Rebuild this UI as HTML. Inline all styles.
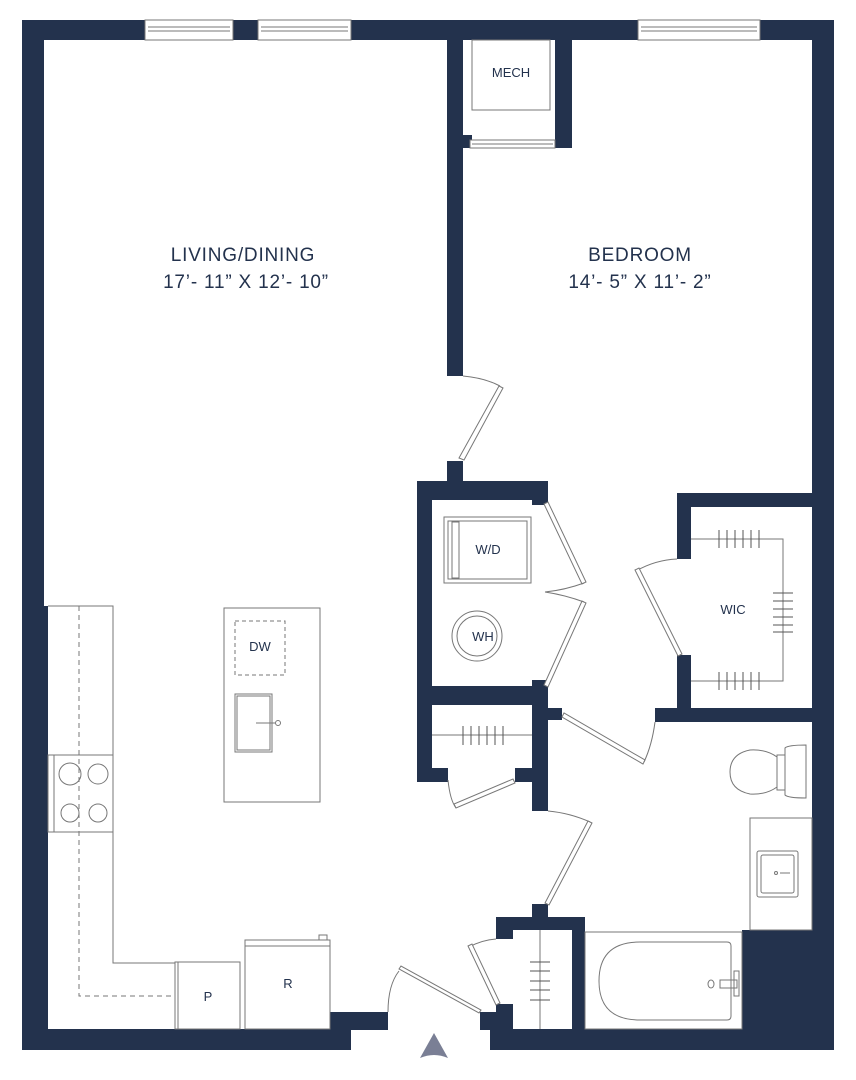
<!DOCTYPE html>
<html><head><meta charset="utf-8"><style>
html,body{margin:0;padding:0;background:#fff;}
svg{display:block;}
text{font-family:"Liberation Sans",sans-serif;fill:#23324d;}
.big{font-size:19px;letter-spacing:0.8px;}
</style></head><body>
<svg width="856" height="1080" viewBox="0 0 856 1080" xmlns="http://www.w3.org/2000/svg">
<g fill="#23324d">
<rect x="22" y="20" width="812" height="20"/>
<rect x="22" y="20" width="22" height="1030"/>
<rect x="22" y="606" width="26" height="444"/>
<rect x="812" y="20" width="22" height="1030"/>
<rect x="22" y="1029" width="329" height="21"/>
<rect x="330" y="1012" width="58" height="18"/>
<rect x="490" y="1029" width="344" height="21"/>
<rect x="480" y="1012" width="33" height="18"/>
<rect x="447" y="40" width="16" height="336"/>
<rect x="447" y="461" width="16" height="22"/>
<rect x="555" y="40" width="17" height="108"/>
<rect x="463" y="135" width="9" height="13"/>
<rect x="417" y="481" width="131" height="19"/>
<rect x="532" y="481" width="16" height="24"/>
<rect x="417" y="481" width="15" height="301"/>
<rect x="417" y="686" width="131" height="19"/>
<rect x="532" y="680" width="16" height="131"/>
<rect x="548" y="708" width="14" height="12"/>
<rect x="432" y="768" width="16" height="14"/>
<rect x="515" y="768" width="18" height="14"/>
<rect x="677" y="493" width="157" height="14"/>
<rect x="677" y="493" width="14" height="66"/>
<rect x="677" y="655" width="14" height="53"/>
<rect x="655" y="708" width="179" height="14"/>
<rect x="532" y="904" width="16" height="26"/>
<rect x="496" y="917" width="89" height="13"/>
<rect x="496" y="917" width="17" height="22"/>
<rect x="572" y="917" width="13" height="112"/>
<rect x="496" y="1004" width="17" height="26"/>
<rect x="742" y="930" width="70" height="99"/>
</g>
<g fill="#fff" stroke="#777" stroke-width="1">
<rect x="145" y="20" width="88" height="20"/>
<rect x="258" y="20" width="93" height="20"/>
<rect x="638" y="20" width="122" height="20"/>
<rect x="470" y="140" width="85" height="8"/>
</g>
<g stroke="#777" stroke-width="1" fill="none">
<line x1="148" y1="27" x2="230" y2="27"/><line x1="148" y1="31" x2="230" y2="31"/>
<line x1="261" y1="27" x2="348" y2="27"/><line x1="261" y1="31" x2="348" y2="31"/>
<line x1="641" y1="27" x2="757" y2="27"/><line x1="641" y1="31" x2="757" y2="31"/>
<line x1="472" y1="144" x2="553" y2="144"/>
<rect x="472" y="40" width="78" height="70"/>
<path d="M463 376 Q485 378 500 386"/>
<path d="M499 386 L503 388 L464 460 L459 458 Z" fill="#fff"/>
<path d="M544 504 L548 502 L586 582 L582 584 Z" fill="#fff"/>
<path d="M544 685 L548 687 L586 603 L582 601 Z" fill="#fff"/>
<path d="M545 592 Q565 590 584 583 M545 592 Q565 595 584 602"/>
<path d="M677 559 Q655 560 636 571"/>
<path d="M635 570 L639 568 L682 654 L678 656 Z" fill="#fff"/>
<path d="M562 717 L564 713 L645 760 L643 764 Z" fill="#fff"/>
<path d="M655 722 Q652 745 644 762"/>
<path d="M448 780 Q450 800 456 808"/>
<path d="M456 808 L454 804 L513 779 L515 783 Z" fill="#fff"/>
<path d="M548 811 Q570 813 590 822"/>
<path d="M588 821 L592 823 L549 905 L545 903 Z" fill="#fff"/>
<path d="M496 939 Q482 940 469 947"/>
<path d="M468 946 L472 944 L500 1003 L496 1005 Z" fill="#fff"/>
<path d="M388 1012 Q388 985 399 971"/>
<path d="M399 969 L401 966 L481 1010 L479 1013 Z" fill="#fff"/>
<rect x="444" y="517" width="87" height="66"/>
<rect x="448" y="521" width="79" height="58"/>
<rect x="452" y="522" width="7" height="56"/>
<circle cx="477" cy="636" r="25"/><circle cx="477" cy="636" r="20"/>
<line x1="432" y1="735" x2="532" y2="735"/>
<g stroke="#555"><line x1="463" y1="726" x2="463" y2="745"/><line x1="471" y1="726" x2="471" y2="745"/><line x1="479" y1="726" x2="479" y2="745"/><line x1="487" y1="726" x2="487" y2="745"/><line x1="495" y1="726" x2="495" y2="745"/><line x1="503" y1="726" x2="503" y2="745"/></g>
<path d="M691 539 H783 V681 H691"/>
<g stroke="#555">
<line x1="719" y1="530" x2="719" y2="548"/><line x1="727" y1="530" x2="727" y2="548"/><line x1="735" y1="530" x2="735" y2="548"/><line x1="743" y1="530" x2="743" y2="548"/><line x1="751" y1="530" x2="751" y2="548"/><line x1="759" y1="530" x2="759" y2="548"/>
<line x1="719" y1="672" x2="719" y2="690"/><line x1="727" y1="672" x2="727" y2="690"/><line x1="735" y1="672" x2="735" y2="690"/><line x1="743" y1="672" x2="743" y2="690"/><line x1="751" y1="672" x2="751" y2="690"/><line x1="759" y1="672" x2="759" y2="690"/>
<line x1="773" y1="593" x2="793" y2="593"/><line x1="773" y1="601" x2="793" y2="601"/><line x1="773" y1="609" x2="793" y2="609"/><line x1="773" y1="617" x2="793" y2="617"/><line x1="773" y1="625" x2="793" y2="625"/><line x1="773" y1="632" x2="793" y2="632"/>
</g>
<path d="M785 748 Q788 745 806 745 L806 798 Q788 798 785 795 Z"/>
<rect x="777" y="755" width="8" height="35"/>
<path d="M777 757 Q766 749 750 750 Q730 754 730 772 Q730 790 750 794 Q766 795 777 787 Z"/>
<rect x="750" y="818" width="62" height="112"/>
<rect x="757" y="851" width="41" height="46" rx="2"/>
<rect x="761" y="855" width="33" height="38" rx="2"/>
<line x1="780" y1="873" x2="790" y2="873"/><circle cx="776" cy="873" r="1.5"/>
<rect x="585" y="932" width="157" height="97"/>
<path d="M640 942 H727 Q731 942 731 946 V1016 Q731 1020 727 1020 H640 Q599 1020 599 981 Q599 942 640 942 Z"/>
<ellipse cx="711" cy="984" rx="3" ry="4"/>
<path d="M720 980 H737 V988 H720 Z"/><rect x="734" y="971" width="5" height="25"/>
<line x1="540" y1="930" x2="540" y2="1029"/>
<g stroke="#555"><line x1="530" y1="962" x2="550" y2="962"/><line x1="530" y1="971" x2="550" y2="971"/><line x1="530" y1="981" x2="550" y2="981"/><line x1="530" y1="990" x2="550" y2="990"/><line x1="530" y1="1000" x2="550" y2="1000"/></g>
<path d="M48 606 H113 V963 H175"/>
<path d="M79 606 V996 H175" stroke-dasharray="5 4"/>
<rect x="48" y="755" width="6" height="77"/>
<rect x="54" y="755" width="59" height="77"/>
<circle cx="70" cy="774" r="11"/><circle cx="98" cy="774" r="10"/>
<circle cx="70" cy="813" r="9"/><circle cx="98" cy="813" r="9"/>
<rect x="175" y="962" width="65" height="67"/><line x1="178" y1="962" x2="178" y2="1029"/>
<rect x="245" y="940" width="85" height="89"/><line x1="245" y1="946" x2="330" y2="946"/>
<rect x="319" y="935" width="8" height="5"/>
<rect x="224" y="608" width="96" height="194"/>
<rect x="235" y="621" width="50" height="54" stroke-dasharray="4 3"/>
<rect x="235" y="694" width="37" height="58"/><rect x="237" y="696" width="33" height="54"/>
<line x1="256" y1="723" x2="275" y2="723"/><circle cx="278" cy="723" r="2.5"/>
</g>
<path d="M434 1033 L448 1058 Q434 1052 420 1058 Z" fill="#7a7f95"/>
<text class="big" x="243" y="261" text-anchor="middle">LIVING/DINING</text>
<text class="big" x="246" y="288" text-anchor="middle">17’- 11” X 12’- 10”</text>
<text class="big" x="640" y="261" text-anchor="middle">BEDROOM</text>
<text class="big" x="640" y="288" text-anchor="middle">14’- 5” X 11’- 2”</text>
<text x="511" y="77" font-size="13" text-anchor="middle">MECH</text>
<text x="488" y="554" font-size="13" text-anchor="middle">W/D</text>
<text x="483" y="641" font-size="13" text-anchor="middle">WH</text>
<text x="733" y="614" font-size="13" text-anchor="middle">WIC</text>
<text x="260" y="651" font-size="13" text-anchor="middle">DW</text>
<text x="208" y="1001" font-size="13" text-anchor="middle">P</text>
<text x="288" y="988" font-size="13" text-anchor="middle">R</text>
</svg>
</body></html>
